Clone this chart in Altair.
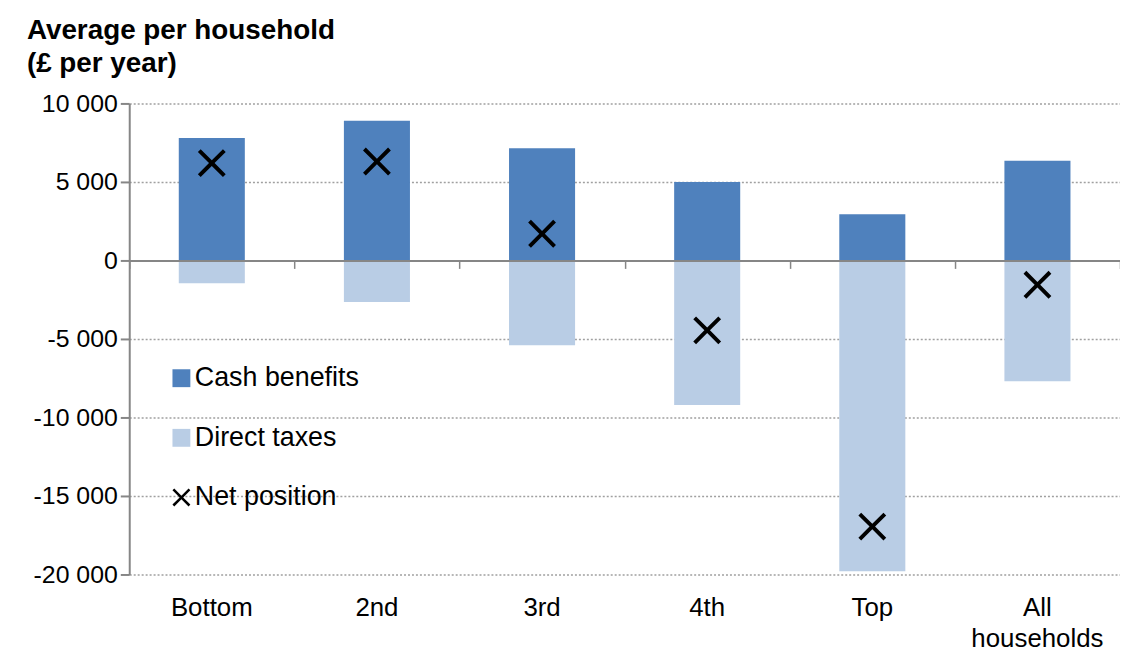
import altair as alt
import pandas as pd

categories = ["Bottom", "2nd", "3rd", "4th", "Top", "All households"]
cash_benefits = [7800, 8900, 7150, 5000, 2950, 6350]
direct_taxes = [-1450, -2650, -5400, -9200, -19800, -7700]
net_position = [6200, 6300, 1700, -4450, -16950, -1550]
series = ["Cash benefits", "Direct taxes", "Net position"]
y_ticks = [-20000, -15000, -10000, -5000, 0, 5000, 10000]

bars_df = pd.DataFrame({
    "category": categories * 2,
    "series": [series[0]] * len(categories) + [series[1]] * len(categories),
    "value": cash_benefits + direct_taxes,
})
net_df = pd.DataFrame({
    "category": categories,
    "series": [series[2]] * len(categories),
    "value": net_position,
})

X_PATH = "M-0.8,-1L0,-0.2L0.8,-1L1,-0.8L0.2,0L1,0.8L0.8,1L0,0.2L-0.8,1L-1,0.8L-0.2,0L-1,-0.8Z"

W = 997
H = 474
FONT = "Liberation Sans"

color_scale = alt.Scale(domain=series, range=["#4F81BD", "#B9CDE5", "#000000"])
shape_scale = alt.Scale(domain=series, range=["square", "square", X_PATH])
x_scale_bars = alt.Scale(domain=categories, paddingInner=0.6, paddingOuter=0.3)
x_scale_full = alt.Scale(domain=categories, paddingInner=0, paddingOuter=0)
y_scale = alt.Scale(domain=[-20000, 10000], nice=False, zero=False)

label_expr = "(datum.value < 0 ? '-' : '') + replace(format(abs(datum.value), ',d'), ',', ' ')"

y_axis = alt.Axis(
    values=y_ticks, labelExpr=label_expr, title=None,
    grid=True, gridDash=[2, 2], gridColor="#A0A0A0", gridWidth=1.5,
    domainColor="#868686", domainWidth=2,
    tickColor="#868686", tickWidth=2, tickSize=9,
    labelFont=FONT, labelFontSize=25, labelColor="black", labelPadding=3,
)

x_axis_labels = alt.Axis(
    title=None, domain=False, ticks=False, grid=False, labelAngle=0,
    labelFont=FONT, labelFontSize=26, labelColor="black", labelPadding=20,
    labelLineHeight=31,
    labelExpr="datum.label == 'All households' ? ['All', 'households'] : datum.label",
)

x_axis_zero = alt.Axis(
    title=None, orient="bottom", offset=-(H * 20000 / 30000),
    labels=False, grid=False, domain=True, domainColor="#868686", domainWidth=2,
    ticks=True, tickBand="extent", tickSize=8, tickColor="#868686", tickWidth=1.5,
    zindex=1,
)

bars = alt.Chart(bars_df).mark_bar().encode(
    x=alt.X("category:N", scale=x_scale_bars, sort=categories, axis=x_axis_labels),
    y=alt.Y("value:Q", scale=y_scale, stack=None, axis=y_axis),
    color=alt.Color("series:N", scale=color_scale, sort=series,
                    legend=alt.Legend(title=None)),
)

points = alt.Chart(net_df).mark_point(filled=True, opacity=1, size=784).encode(
    x=alt.X("category:N", scale=x_scale_full, sort=categories, axis=x_axis_zero),
    y=alt.Y("value:Q", scale=y_scale),
    color=alt.Color("series:N", scale=color_scale, sort=series,
                    legend=alt.Legend(title=None)),
    shape=alt.Shape("series:N", scale=shape_scale, sort=series,
                    legend=alt.Legend(title=None)),
)

chart = alt.layer(bars, points).resolve_scale(x="independent").resolve_axis(x="independent").properties(
    width=W, height=H,
    title=alt.Title(["Average per household", "(£ per year)"], anchor="start", frame="group",
                    dx=-103, fontSize=28, fontWeight="bold", font=FONT, lineHeight=33,
                    offset=14, color="black"),
    autosize=alt.AutoSizeParams(type="none"),
    padding={"left": 122, "top": 94, "right": 0, "bottom": 78},
).configure_view(stroke=None).configure_legend(
    orient="none", legendX=39, legendY=263,
    labelFont=FONT, labelFontSize=27, labelColor="black", labelLimit=0,
    symbolSize=324, symbolStrokeWidth=0, rowPadding=32, labelOffset=0,
    symbolOpacity=1,
)

chart.save("out.html", embed_options={"renderer": "svg", "actions": False})
